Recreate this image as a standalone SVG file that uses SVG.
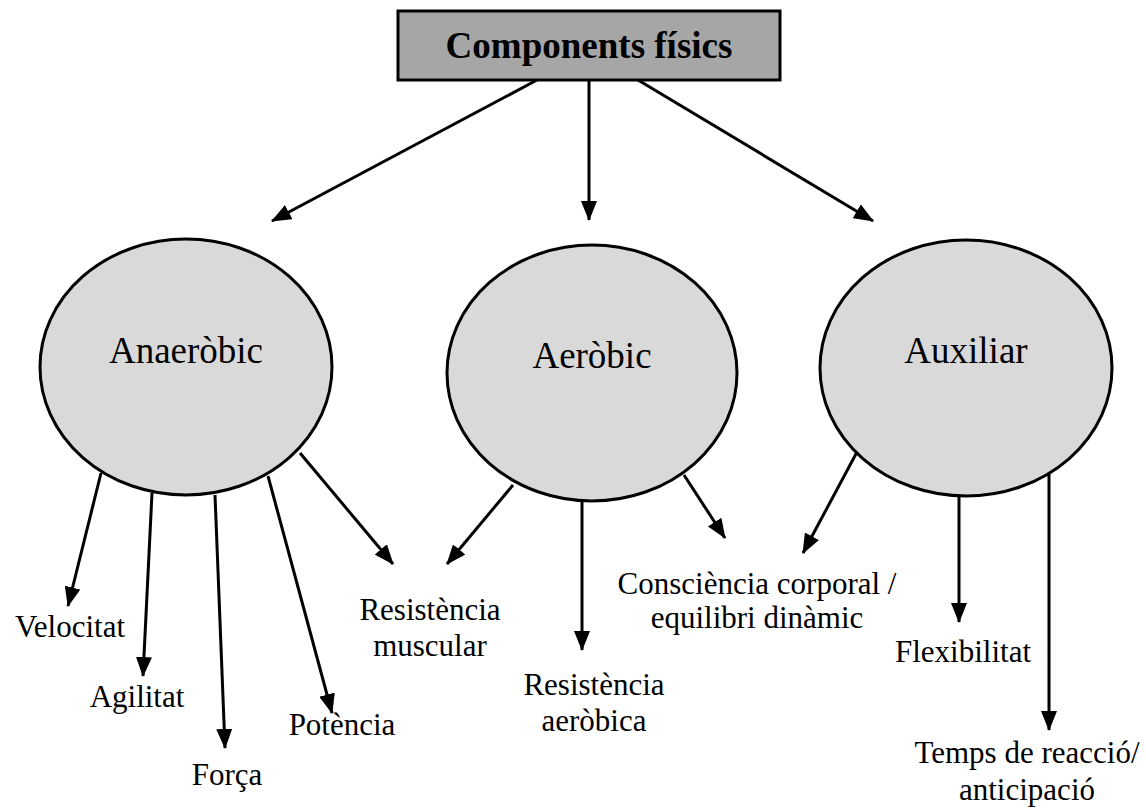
<svg xmlns="http://www.w3.org/2000/svg" width="1146" height="811" viewBox="0 0 1146 811">
  <style>
    .box { fill: #a6a6a6; stroke: #000; stroke-width: 3; }
    .oval { fill: #d9d9d9; stroke: #000; stroke-width: 3; }
    text { font-family: "Liberation Serif", "DejaVu Serif", serif; fill: #000; text-anchor: middle; }
    .title { font-size: 37px; font-weight: bold; }
    .name { font-size: 37px; }
    .lbl { font-size: 31px; }
    .edge { stroke: #000; stroke-width: 3; fill: none; marker-end: url(#head); }
  </style>
  <defs>
    <!-- filled triangular arrowhead, sized in user units -->
    <marker id="head" viewBox="0 0 20 16" refX="19" refY="8" markerWidth="20" markerHeight="16" markerUnits="userSpaceOnUse" orient="auto">
      <path d="M0,0 L20,8 L0,16 Z" fill="#000"/>
    </marker>
  </defs>

  <rect width="1146" height="811" fill="#fff"/>

  <g id="connectors">
    <!-- from the title box -->
    <line class="edge" x1="537" y1="80" x2="272" y2="221"/>
    <line class="edge" x1="589" y1="80" x2="589" y2="220"/>
    <line class="edge" x1="638" y1="80" x2="873" y2="221"/>

    <!-- from Anaeròbic -->
    <line class="edge" x1="101" y1="473" x2="68" y2="606"/>
    <line class="edge" x1="152" y1="493" x2="143" y2="676"/>
    <line class="edge" x1="215" y1="495" x2="225" y2="748"/>
    <line class="edge" x1="268" y1="476" x2="332" y2="713"/>
    <line class="edge" x1="300" y1="453" x2="393" y2="564"/>

    <!-- from Aeròbic -->
    <line class="edge" x1="513" y1="485" x2="447" y2="564"/>
    <line class="edge" x1="582" y1="502" x2="582" y2="650"/>
    <line class="edge" x1="684" y1="475" x2="725" y2="538"/>

    <!-- from Auxiliar -->
    <line class="edge" x1="857" y1="452" x2="803" y2="553"/>
    <line class="edge" x1="959" y1="496" x2="959" y2="622"/>
    <line class="edge" x1="1049" y1="470" x2="1049" y2="730"/>
  </g>

  <g id="components-fisics">
    <rect class="box" x="398" y="11" width="382" height="69"/>
    <text class="title" x="589" y="58">Components físics</text>
  </g>

  <g id="anaerobic">
    <ellipse class="oval" cx="186" cy="367" rx="146" ry="128"/>
    <text class="name" x="186" y="363">Anaeròbic</text>
  </g>

  <g id="aerobic">
    <ellipse class="oval" cx="592" cy="373" rx="145" ry="128"/>
    <text class="name" x="592" y="368">Aeròbic</text>
  </g>

  <g id="auxiliar">
    <ellipse class="oval" cx="966" cy="368" rx="146" ry="128"/>
    <text class="name" x="966" y="363">Auxiliar</text>
  </g>

  <g id="velocitat"><text class="lbl" x="70" y="637">Velocitat</text></g>
  <g id="agilitat"><text class="lbl" x="137" y="707">Agilitat</text></g>
  <g id="forca"><text class="lbl" x="227" y="785">Força</text></g>
  <g id="potencia"><text class="lbl" x="342" y="735">Potència</text></g>
  <g id="resistencia-muscular">
    <text class="lbl" x="430" y="620">Resistència</text>
    <text class="lbl" x="430" y="656">muscular</text>
  </g>
  <g id="resistencia-aerobica">
    <text class="lbl" x="594" y="695">Resistència</text>
    <text class="lbl" x="594" y="731">aeròbica</text>
  </g>
  <g id="consciencia-corporal">
    <text class="lbl" x="757" y="594">Consciència corporal /</text>
    <text class="lbl" x="757" y="628">equilibri dinàmic</text>
  </g>
  <g id="flexibilitat"><text class="lbl" x="963" y="662">Flexibilitat</text></g>
  <g id="temps-reaccio">
    <text class="lbl" x="1027" y="763">Temps de reacció/</text>
    <text class="lbl" x="1027" y="800">anticipació</text>
  </g>
</svg>
